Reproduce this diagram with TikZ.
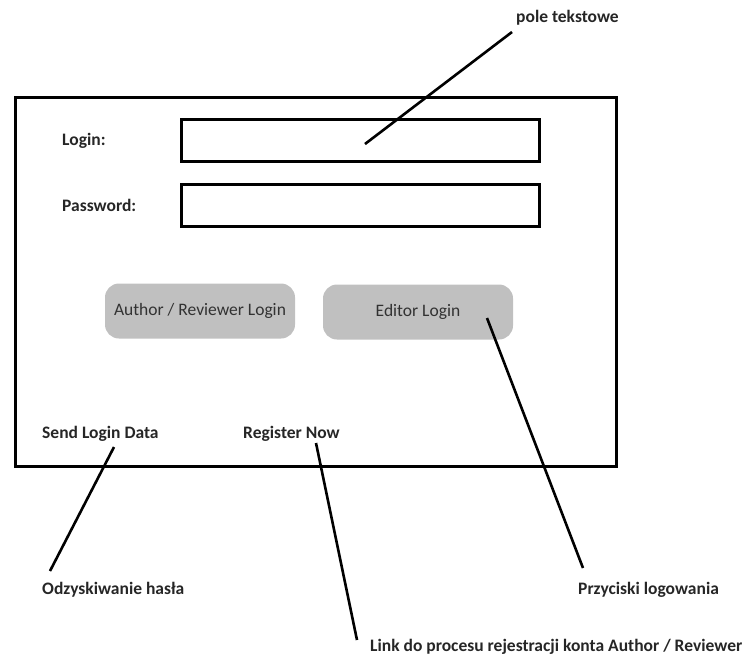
\documentclass[tikz,border=0pt]{standalone}
\usepackage{fontspec}
\setmainfont{Carlito}
\usepackage{xcolor}
\definecolor{button-gray}{RGB}{192,192,192}
\definecolor{button-text}{RGB}{50,50,50}
\usepackage{tikz}
\usetikzlibrary{positioning}

\begin{document}
\begin{tikzpicture}[
    x=1pt, y=-1pt,
    every node/.style={inner sep=0pt},
    caption/.style={font=\fontsize{17.5}{20}\selectfont\bfseries, text=black!85, anchor=west},
    field/.style={draw=black, line width=3pt, minimum width=358pt, minimum height=42pt},
    button/.style={fill=button-gray, rounded corners=14pt, minimum width=190pt, minimum height=55pt,
                   font=\fontsize{17.5}{20}\selectfont, text=button-text},
    pointer/.style={line width=2.6pt}
]

\useasboundingbox (0,0) rectangle (745,657);

% Login window frame
\node[draw=black, line width=3pt, minimum width=601pt, minimum height=369pt] (window) at (315.5,281.5) {};

% Input rows
\node[caption] (login) at (62,141) {Login:};
\node[caption] (password) at (62,205) {Password:};
\node[field] (loginfield) at (360,140.5) {};
\node[field] (passfield) at (360,205) {};

% Buttons
\node[button] (authorbtn) at (200,311) {Author / Reviewer Login};
\node[button] (editorbtn) at (418,312) {Editor Login};

% Links inside the window
\node[caption] (sendlogin) at (42,434) {Send Login Data};
\node[caption] (register) at (243,434) {Register Now};

% Annotations
\node[caption] (poletxt) at (516,18) {pole tekstowe};
\node[caption] (odzysk) at (42,590) {Odzyskiwanie hasła};
\node[caption] (przyciski) at (578,590) {Przyciski logowania};
\node[caption] (linkreg) at (370,647) {Link do procesu rejestracji konta Author / Reviewer};

% Pointer ends
\coordinate (fieldpt) at (365,144);
\coordinate (editorpt) at (487,318);
\coordinate (registerpt) at (316,443);
\coordinate (sendpt) at (114,447);

\draw[pointer] ([xshift=-4pt,yshift=-14pt]poletxt.west) -- (fieldpt);
\draw[pointer] (editorpt) -- ([xshift=5pt,yshift=22pt]przyciski.west);
\draw[pointer] (registerpt) -- ([xshift=-13pt,yshift=7pt]linkreg.west);
\draw[pointer] (sendpt) -- ([xshift=8pt,yshift=19pt]odzysk.west);

\end{tikzpicture}
\end{document}
